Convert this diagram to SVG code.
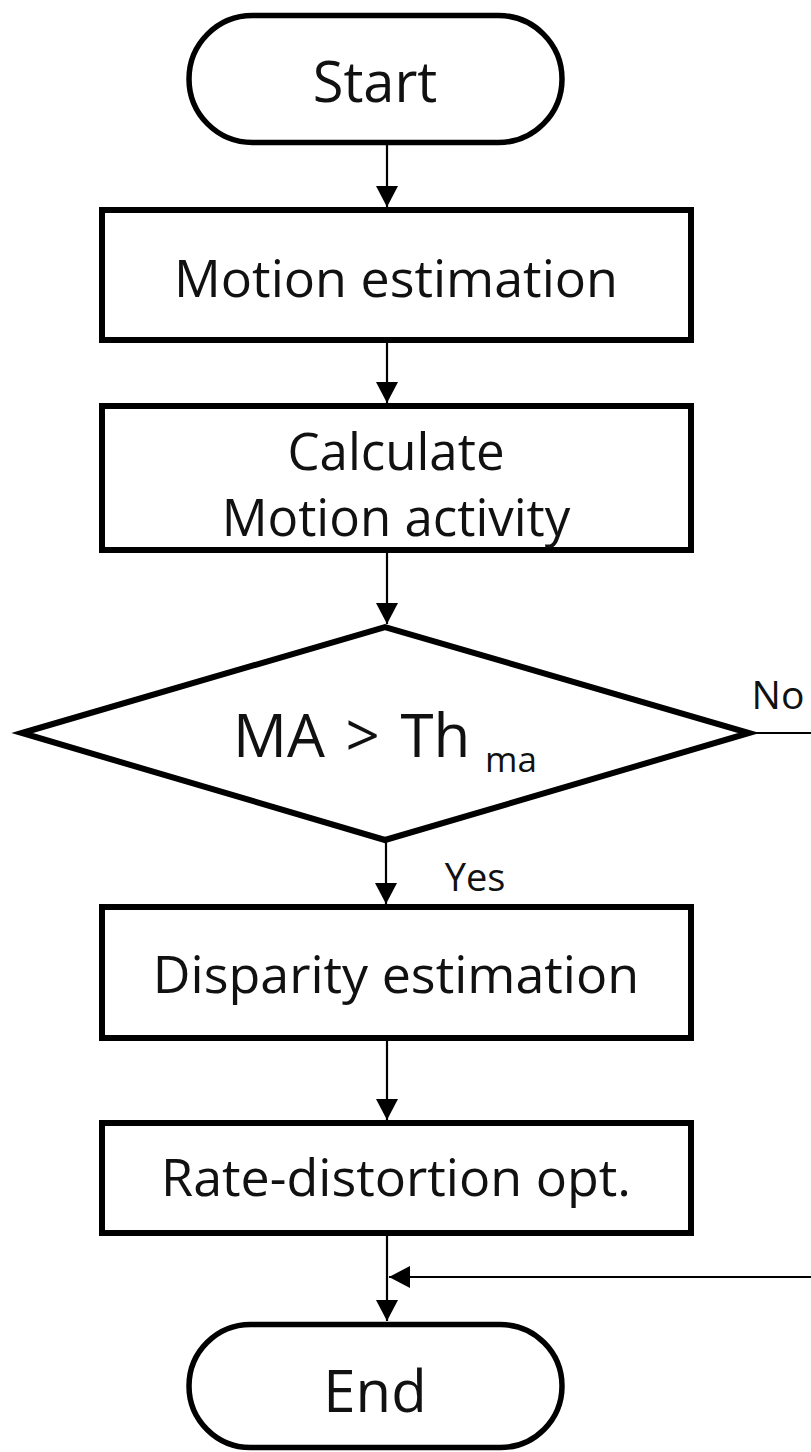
<svg xmlns="http://www.w3.org/2000/svg" width="811" height="1452" viewBox="0 0 811 1452">
<style>
.shape{fill:#fff;stroke:#000;stroke-width:6}
.term{fill:#fff;stroke:#000;stroke-width:5.5}
.lbl{font-family:"Open Sans","Noto Sans",sans-serif;fill:#111;text-anchor:middle}
.conn{fill:none;stroke:#000;stroke-width:2.2}
</style>
<defs>
<marker id="ah" markerUnits="userSpaceOnUse" markerWidth="22" markerHeight="22" viewBox="0 0 22 22" refX="21" refY="11" orient="auto">
<path d="M0,0 L21,11 L0,22 z" fill="#000"/>
</marker>
</defs>
<rect width="811" height="1452" fill="#fff"/>
<g id="connectors">
<path class="conn" d="M387 145 V207" marker-end="url(#ah)"/>
<path class="conn" d="M387 343 V403" marker-end="url(#ah)"/>
<path class="conn" d="M387 553 V624" marker-end="url(#ah)"/>
<path class="conn" d="M386 842 V904" marker-end="url(#ah)"/>
<path class="conn" d="M387 1040 V1120" marker-end="url(#ah)"/>
<path class="conn" d="M387 1236 V1321" marker-end="url(#ah)"/>
<path class="conn" d="M750 733 H816 V1277 H389" marker-end="url(#ah)"/>
</g>
<g id="start">
<rect class="term" x="189" y="15.5" width="373" height="127" rx="63.5"/>
<text class="lbl" x="375" y="102" font-size="56">Start</text>
</g>
<g id="motion-estimation">
<rect class="shape" x="102" y="210" width="589" height="130"/>
<text class="lbl" x="396" y="297" font-size="52">Motion estimation</text>
</g>
<g id="calc-motion-activity">
<rect class="shape" x="102" y="406" width="589" height="144"/>
<text class="lbl" x="396" y="470" font-size="51">Calculate</text>
<text class="lbl" x="396" y="536" font-size="51">Motion activity</text>
</g>
<g id="decision">
<polygon class="shape" points="22,733 385,627 749,733 385,840"/>
<text class="lbl" x="233" y="757" font-size="60" style="text-anchor:start" word-spacing="5">MA &gt; Th</text>
<text class="lbl" x="485" y="772" font-size="35" style="text-anchor:start">ma</text>
<text class="lbl" x="778" y="709" font-size="39">No</text>
<text class="lbl" x="475" y="891" font-size="38">Yes</text>
</g>
<g id="disparity-estimation">
<rect class="shape" x="102" y="907" width="589" height="131"/>
<text class="lbl" x="396" y="993" font-size="52">Disparity estimation</text>
</g>
<g id="rate-distortion">
<rect class="shape" x="102" y="1123" width="589" height="110"/>
<text class="lbl" x="396" y="1196" font-size="52">Rate-distortion opt.</text>
</g>
<g id="end">
<rect class="term" x="189" y="1324.5" width="373" height="123" rx="61.5"/>
<text class="lbl" x="375" y="1412" font-size="58">End</text>
</g>
</svg>
